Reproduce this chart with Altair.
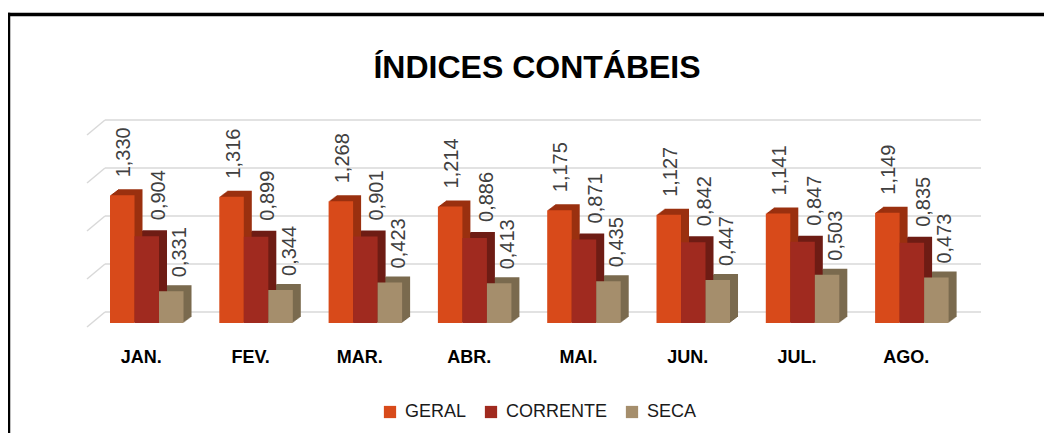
import altair as alt
import pandas as pd

months = ["JAN.", "FEV.", "MAR.", "ABR.", "MAI.", "JUN.", "JUL.", "AGO."]
series = ["GERAL", "CORRENTE", "SECA"]
geral = [1.330, 1.316, 1.268, 1.214, 1.175, 1.127, 1.141, 1.149]
corrente = [0.904, 0.899, 0.901, 0.886, 0.871, 0.842, 0.847, 0.835]
seca = [0.331, 0.344, 0.423, 0.413, 0.435, 0.447, 0.503, 0.473]
grid_values = [0, 0.5, 1.0, 1.5, 2.0]
title_text = "ÍNDICES CONTÁBEIS"

front_colors = ["#D84A1A", "#A02A1F", "#A58E6C"]
side_colors = ["#9A300F", "#6E1C14", "#7A6A4E"]

BW = 0.2242  # bar width in month-step units

rows = []
for j, (s, vals) in enumerate(zip(series, [geral, corrente, seca])):
    for i, (m, v) in enumerate(zip(months, vals)):
        rows.append({"mes": m, "i": i, "serie": s, "j": j, "valor": v})
df = pd.DataFrame(rows)

W, H = 876, 192

x_scale = alt.Scale(domain=[-0.04575, 7.9689], nice=False, zero=False)
y_scale = alt.Scale(domain=[0, 2], nice=False, zero=True)

month_array = "[" + ",".join("'" + m + "'" for m in months) + "]"
x_axis = alt.Axis(title=None, ticks=False, domain=False, grid=False, labelPadding=36,
                  labelAngle=0, labelFont="Liberation Sans", labelFontWeight="bold",
                  labelFontSize=18, labelColor="#000000", labelBaseline="top",
                  labelAlign="center", labelOffset=-6,
                  values=[i + 1.5 * BW for i in range(len(months))],
                  labelExpr=month_array + "[round(datum.value - " + str(1.5 * BW) + ")]")

x_bar = alt.X("x0:Q", scale=x_scale, axis=x_axis)
y_bar = alt.Y("valor:Q", scale=y_scale, axis=None)

base = alt.Chart(df).transform_calculate(
    x0="datum.i + datum.j * " + str(BW),
    x1="datum.i + (datum.j + 1) * " + str(BW),
    xc="datum.i + (datum.j + 0.5) * " + str(BW),
)

legend = alt.Legend(title=None, orient="none", direction="horizontal",
                    legendX=276, legendY=283, symbolType="square",
                    symbolSize=150, symbolStrokeWidth=0,
                    labelFont="Liberation Sans", labelFontSize=18,
                    labelColor="#1A1A1A", labelOffset=6, columnPadding=15)

# grid lines (back wall) and perspective diagonals
grid_df = pd.DataFrame({"g": grid_values})
grid_h = alt.Chart(grid_df).mark_rule(color="#D9D9D9", strokeWidth=1.5).encode(
    y=alt.Y("g:Q", scale=y_scale, axis=None),
    x=alt.value(0), x2=alt.value(W))
grid_d = alt.Chart(grid_df).mark_rule(color="#D9D9D9", strokeWidth=1.5, y2Offset=15).encode(
    y=alt.Y("g:Q", scale=y_scale, axis=None), y2="g:Q",
    x=alt.value(0), x2=alt.value(-18))

# depth faces (stepped)
side_layers = []
for k in range(1, 9):
    dx = k * 1.0
    dy = 11 - k * 0.75
    side_layers.append(
        base.mark_bar(xOffset=dx, x2Offset=dx, yOffset=dy, y2Offset=dy).encode(
            x=x_bar, x2="x1:Q",
            y=y_bar, y2=alt.datum(0),
            color=alt.Color("serie:N", sort=series,
                            scale=alt.Scale(domain=series, range=side_colors), legend=None)
        )
    )

front = base.mark_bar(yOffset=11, y2Offset=11).encode(
    x=x_bar, x2="x1:Q",
    y=y_bar, y2=alt.datum(0),
    color=alt.Color("serie:N", sort=series,
                    scale=alt.Scale(domain=series, range=front_colors), legend=legend))

label_dx = {"GERAL": 2, "CORRENTE": 12, "SECA": 9}
label_dy = {"GERAL": -7, "CORRENTE": -5, "SECA": -3}
labels = []
for s in series:
    labels.append(
        base.transform_filter(alt.datum.serie == s)
        .transform_calculate(rotulo="replace(format(datum.valor, '.3f'), '.', ',')")
        .mark_text(angle=270, align="left", baseline="middle", font="Liberation Sans",
                   fontSize=20, color="#404040", xOffset=label_dx[s], yOffset=label_dy[s])
        .encode(x=alt.X("xc:Q", scale=x_scale, axis=x_axis),
                y=y_bar,
                text="rotulo:N")
    )

title_df = pd.DataFrame({"t": [title_text]})
title = alt.Chart(title_df).mark_text(font="Liberation Sans", fontWeight="bold",
                                      fontSize=32, align="center", baseline="alphabetic",
                                      color="#000000").encode(
    text="t:N", x=alt.value(432), y=alt.value(-42))

frame_df = pd.DataFrame({"f": [0]})
frame_left = alt.Chart(frame_df).mark_rule(color="#000000", strokeWidth=3.5).encode(
    x=alt.value(-96.5), y=alt.value(-107.3), y2=alt.value(H + 140))
frame_top = alt.Chart(frame_df).mark_rule(color="#000000", strokeWidth=3.5).encode(
    x=alt.value(-98.2), x2=alt.value(W + 80), y=alt.value(-105.5))

chart = alt.layer(grid_h, grid_d, *side_layers, front, *labels, title, frame_left, frame_top).properties(
    width=W, height=H,
    autosize=alt.AutoSizeParams(type="none"),
    padding={"left": 97, "top": 112, "right": 63, "bottom": 121},
    view=alt.ViewBackground(strokeOpacity=0, strokeWidth=0),
).resolve_scale(color="independent").configure_view(strokeOpacity=0, strokeWidth=0).configure(background="#FFFFFF")

chart.save("out.html", embed_options={"renderer": "svg", "actions": False})
